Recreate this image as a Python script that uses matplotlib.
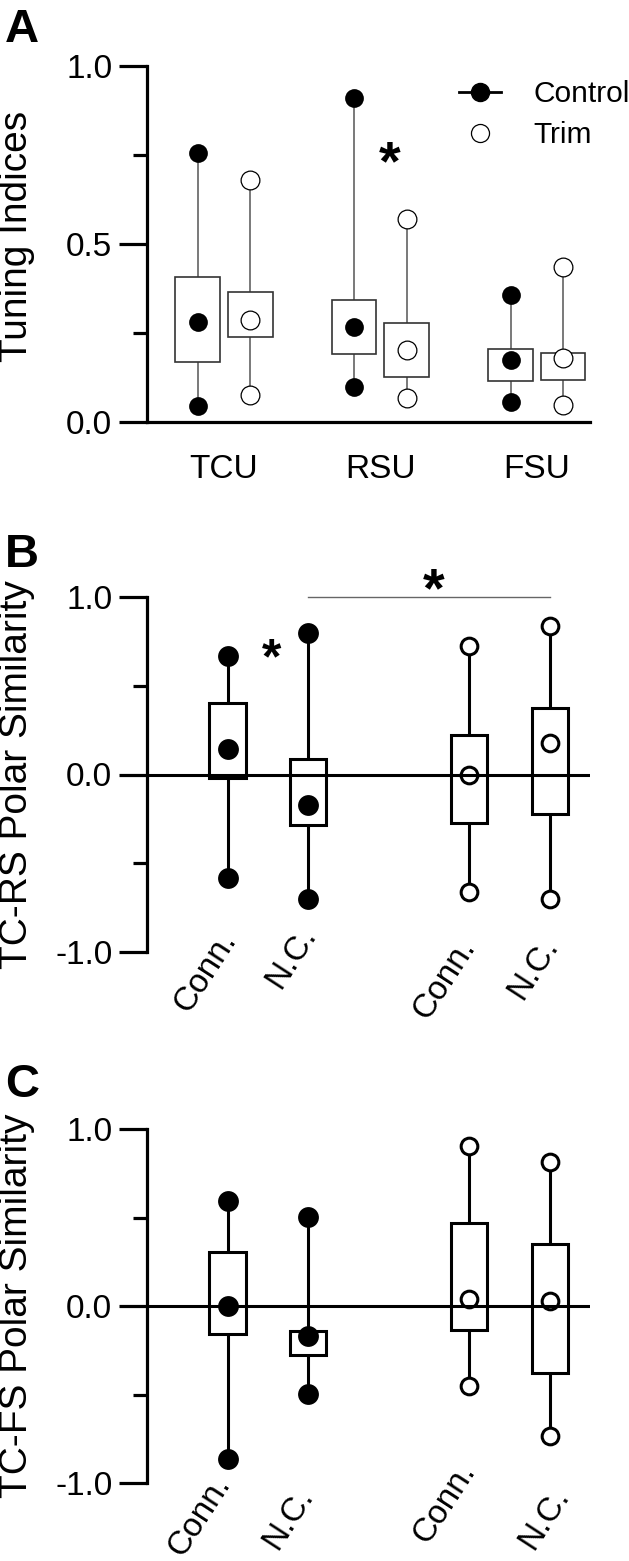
import matplotlib
matplotlib.use('Agg')
import matplotlib.pyplot as plt
from matplotlib.lines import Line2D
from matplotlib.ticker import FixedLocator

plt.rcParams['font.family'] = ['Liberation Sans', 'DejaVu Sans']

# ---------------- Data ----------------
# Panel A: Tuning indices (box: q1..q3, whiskers low..high, median)
a_groups = ['TCU', 'RSU', 'FSU']
a_ctrl_low = [0.044, 0.099, 0.056]
a_ctrl_q1 = [0.169, 0.192, 0.115]
a_ctrl_med = [0.280, 0.266, 0.174]
a_ctrl_q3 = [0.407, 0.343, 0.204]
a_ctrl_high = [0.757, 0.911, 0.358]
a_trim_low = [0.077, 0.068, 0.047]
a_trim_q1 = [0.238, 0.127, 0.117]
a_trim_med = [0.286, 0.202, 0.181]
a_trim_q3 = [0.366, 0.279, 0.193]
a_trim_high = [0.679, 0.570, 0.435]

# Panel B: TC-RS polar similarity (Control Conn., Control N.C., Trim Conn., Trim N.C.)
bc_labels = ['Conn.', 'N.C.', 'Conn.', 'N.C.']
bc_condition = ['Control', 'Control', 'Trim', 'Trim']
b_low = [-0.585, -0.703, -0.660, -0.703]
b_q1 = [-0.017, -0.284, -0.276, -0.224]
b_med = [0.143, -0.173, 0.000, 0.177]
b_q3 = [0.402, 0.086, 0.222, 0.372]
b_high = [0.665, 0.795, 0.724, 0.838]

# Panel C: TC-FS polar similarity
c_low = [-0.864, -0.499, -0.452, -0.734]
c_q1 = [-0.158, -0.277, -0.136, -0.380]
c_med = [0.000, -0.168, 0.038, 0.030]
c_q3 = [0.303, -0.139, 0.471, 0.350]
c_high = [0.595, 0.501, 0.904, 0.812]

# ---------------- Layout ----------------
W, H = 629, 1561
fig = plt.figure(figsize=(W / 100, H / 100), dpi=100)

def fpos(x0, x1, ytop, ybot):
    return [x0 / W, 1 - ybot / H, (x1 - x0) / W, (ybot - ytop) / H]

axA = fig.add_axes(fpos(147, 590, 66, 422))
axB = fig.add_axes(fpos(147, 590, 597, 952))
axC = fig.add_axes(fpos(147, 590, 1129, 1483))

TICK_FS = 24
LABEL_FS = 28

def style_yaxis(ax, major, minor, labels, lw):
    ax.spines['top'].set_visible(False)
    ax.spines['right'].set_visible(False)
    ax.spines['left'].set_linewidth(lw)
    ax.yaxis.set_major_locator(FixedLocator(major))
    ax.yaxis.set_minor_locator(FixedLocator(minor))
    ax.set_yticklabels(labels)
    ax.tick_params(axis='y', which='major', length=20, width=lw, labelsize=TICK_FS, pad=5)
    ax.tick_params(axis='y', which='minor', length=10, width=lw)

# ---------------- Panel A ----------------
ax = axA
ax.set_xlim(0.508, 3.34)
ax.set_ylim(0, 1.0)
style_yaxis(ax, [0, 0.5, 1.0], [0.25, 0.75], ['0.0', '0.5', '1.0'], 2.3)
ax.spines['left'].set_bounds(0, 1.0)
ax.spines['bottom'].set_linewidth(2.3)
pos = [1, 2, 3]
off = 0.168
bw = 0.285
xc = [p - off for p in pos]
xt = [p + off for p in pos]
wcol = '#555555'
ax.vlines(xc, a_ctrl_low, a_ctrl_high, color=wcol, lw=1.1, zorder=1)
ax.vlines(xt, a_trim_low, a_trim_high, color=wcol, lw=1.1, zorder=1)
ax.bar(xc, [q3 - q1 for q1, q3 in zip(a_ctrl_q1, a_ctrl_q3)], bottom=a_ctrl_q1, width=bw,
       facecolor='white', edgecolor='#333333', lw=1.2, zorder=2)
ax.bar(xt, [q3 - q1 for q1, q3 in zip(a_trim_q1, a_trim_q3)], bottom=a_trim_q1, width=bw,
       facecolor='white', edgecolor='#333333', lw=1.2, zorder=2)
for vals in (a_ctrl_low, a_ctrl_med, a_ctrl_high):
    ax.plot(xc, vals, 'o', ms=13.5, color='black', mec='black', mew=0, zorder=3, clip_on=False)
for vals in (a_trim_low, a_trim_med, a_trim_high):
    ax.plot(xt, vals, 'o', ms=13.5, mfc='white', mec='black', mew=0.9, zorder=3, clip_on=False)
ax.set_xticks(pos)
ax.set_xticklabels(a_groups)
ax.tick_params(axis='x', length=0, labelsize=TICK_FS, pad=23)
ax.annotate('*', xy=(2.06, 0.775), xytext=(0, -0.6 * 40), textcoords='offset points',
            ha='center', va='baseline', fontsize=40, fontweight='bold', annotation_clip=False)
handles = [Line2D([], [], color='black', lw=2, marker='o', ms=13, mfc='black', mec='black'),
           Line2D([], [], color='none', marker='o', ms=13, mfc='white', mec='black', mew=0.9)]
ax.legend(handles, ['Control', 'Trim'], loc='upper left', bbox_to_anchor=(459 / W, 1 - 80 / H),
          bbox_transform=fig.transFigure, frameon=False, fontsize=21.5, handlelength=1.4,
          handletextpad=1.1, labelspacing=0.45, borderpad=0, borderaxespad=0)

# ---------------- Panels B & C ----------------
bc_pos = [1, 2, 4, 5]
bc_w = 0.45

def draw_bc(ax, low, q1, med, q3, high, label_xy):
    ax.set_xlim(0, 5.5)
    ax.set_ylim(-1, 1)
    style_yaxis(ax, [-1.0, 0.0, 1.0], [-0.5, 0.5], ['-1.0', '0.0', '1.0'], 2.3)
    ax.spines['left'].set_bounds(-1, 1)
    ax.spines['bottom'].set_visible(False)
    ax.set_xticks([])
    ax.vlines(bc_pos, low, high, color='black', lw=2.2, zorder=1)
    ax.bar(bc_pos, [b - a for a, b in zip(q1, q3)], bottom=q1, width=bc_w,
           facecolor='white', edgecolor='black', lw=2.2, zorder=2)
    ctrl = [i for i, c in enumerate(bc_condition) if c == 'Control']
    trim = [i for i, c in enumerate(bc_condition) if c == 'Trim']
    for vals in (low, med, high):
        ax.plot([bc_pos[i] for i in ctrl], [vals[i] for i in ctrl], 'o', ms=15,
                color='black', mew=0, zorder=3, clip_on=False)
        ax.plot([bc_pos[i] for i in trim], [vals[i] for i in trim], 'o', ms=12,
                mfc='white', mec='black', mew=2.2, zorder=3, clip_on=False)
    ax.axhline(0, color='black', lw=2.2, zorder=5)
    for lab, (x, y) in zip(bc_labels, label_xy):
        ax.text(x, y, lab, rotation=57, rotation_mode='anchor', ha='right', va='baseline',
                fontsize=TICK_FS, clip_on=False)

draw_bc(axB, b_low, b_q1, b_med, b_q3, b_high,
        [(1.12, -0.93), (2.11, -0.90), (4.08, -0.97), (5.11, -0.96)])
draw_bc(axC, c_low, c_q1, c_med, c_q3, c_high,
        [(1.04, -1.0), (2.07, -1.07), (4.08, -0.93), (5.24, -1.07)])

axB.plot([2, 5], [1.0, 1.0], color='#666666', lw=1.0, clip_on=False)
axB.annotate('*', xy=(3.56, 1.135), xytext=(0, -0.6 * 40), textcoords='offset points',
             ha='center', va='baseline', fontsize=40, fontweight='bold', annotation_clip=False)
axB.annotate('*', xy=(1.55, 0.74), xytext=(0, -0.6 * 36), textcoords='offset points',
             ha='center', va='baseline', fontsize=36, fontweight='bold', annotation_clip=False)

# ---------------- Axis titles & panel letters ----------------
for txt, yc in (('Tuning Indices', 236), ('TC-RS Polar Similarity', 775), ('TC-FS Polar Similarity', 1306)):
    fig.text(27 / W, 1 - yc / H, txt, rotation=90, rotation_mode='anchor', ha='center',
             va='baseline', fontsize=LABEL_FS)

for letter, yb in (('A', 42), ('B', 567), ('C', 1097)):
    fig.text(5 / W, 1 - yb / H, letter, ha='left', va='baseline', fontsize=34, fontweight='bold')

fig.savefig('out.png', dpi=100)
